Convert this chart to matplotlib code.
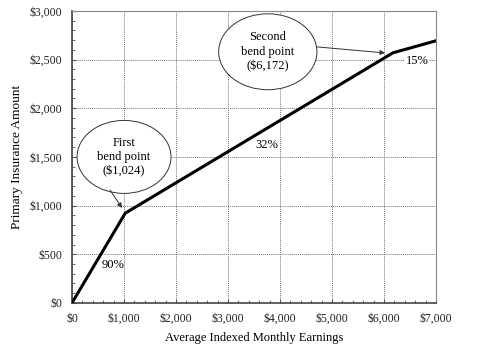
import numpy as np
import matplotlib.pyplot as plt
from matplotlib.patches import Ellipse
from matplotlib.ticker import MultipleLocator, FuncFormatter

# Dados (fórmula do PIA)
aime = [0, 1024, 6172, 7000]
pia = [0, 921.6, 2569, 2693]
taxas = ['90%', '32%', '15%']

plt.rcParams['font.family'] = 'Liberation Serif'
plt.rcParams['font.size'] = 9

fig = plt.figure(figsize=(4.78, 3.51), dpi=100)
ax = fig.add_axes([0.1506, 0.137, 0.7615, 0.832])

ax.plot(aime, pia, color='black', lw=2.2, solid_joinstyle='miter', zorder=3)

ax.set_xlim(0, 7000)
ax.set_ylim(0, 3000)
ax.xaxis.set_major_locator(MultipleLocator(1000))
ax.xaxis.set_minor_locator(MultipleLocator(200))
ax.yaxis.set_major_locator(MultipleLocator(500))
ax.yaxis.set_minor_locator(MultipleLocator(100))
fmt = FuncFormatter(lambda v, p: '${:,.0f}'.format(v))
ax.xaxis.set_major_formatter(fmt)
ax.yaxis.set_major_formatter(fmt)
ax.tick_params(which='both', direction='in', color='#555555', labelsize=8.5,
               labelcolor='#222222')
ax.tick_params(which='major', length=3)
ax.tick_params(which='minor', length=2)
ax.tick_params(axis='x', pad=7)
ax.tick_params(axis='y', pad=7)
ax.grid(True, which='major', linestyle=(0, (1, 1)), color='#777777', lw=0.7)

for s in ['top', 'right']:
    ax.spines[s].set_color('#888888')
for s in ['left', 'bottom']:
    ax.spines[s].set_color('#444444')
    ax.spines[s].set_linewidth(1.2)

ax.set_xlabel('Average Indexed Monthly Earnings', fontsize=9, labelpad=5)
ax.set_ylabel('Primary Insurance Amount', fontsize=9.5, labelpad=5)

# Elipses com os pontos de inflexao
e1 = Ellipse((0.143, 0.50), 0.258, 0.25, transform=ax.transAxes,
             facecolor='white', edgecolor='#333333', lw=0.7, zorder=4)
ax.add_patch(e1)
ax.text(0.143, 0.50, 'First\nbend point\n($1,024)', transform=ax.transAxes,
        ha='center', va='center', fontsize=9, linespacing=1.25, zorder=5)

e2 = Ellipse((0.538, 0.86), 0.27, 0.26, transform=ax.transAxes,
             facecolor='white', edgecolor='#333333', lw=0.7, zorder=4)
ax.add_patch(e2)
ax.text(0.538, 0.86, 'Second\nbend point\n($6,172)', transform=ax.transAxes,
        ha='center', va='center', fontsize=9, linespacing=1.25, zorder=5)

ax.annotate('', xy=(962, 976), xytext=(731, 1160),
            arrowprops=dict(arrowstyle='-|>', color='#333333', lw=0.7,
                            shrinkA=0, shrinkB=0, mutation_scale=7), zorder=5)
ax.annotate('', xy=(6019, 2568), xytext=(4712, 2630),
            arrowprops=dict(arrowstyle='-|>', color='#333333', lw=0.7,
                            shrinkA=0, shrinkB=0, mutation_scale=7), zorder=5)

ax.text(788, 390, taxas[0], ha='center', va='center', fontsize=9)
ax.text(3750, 1622, taxas[1], ha='center', va='center', fontsize=9)
ax.text(6635, 2485, taxas[2], ha='center', va='center', fontsize=9,
        bbox=dict(facecolor='white', edgecolor='none', pad=0.5))

fig.savefig('out.png', dpi=100)
